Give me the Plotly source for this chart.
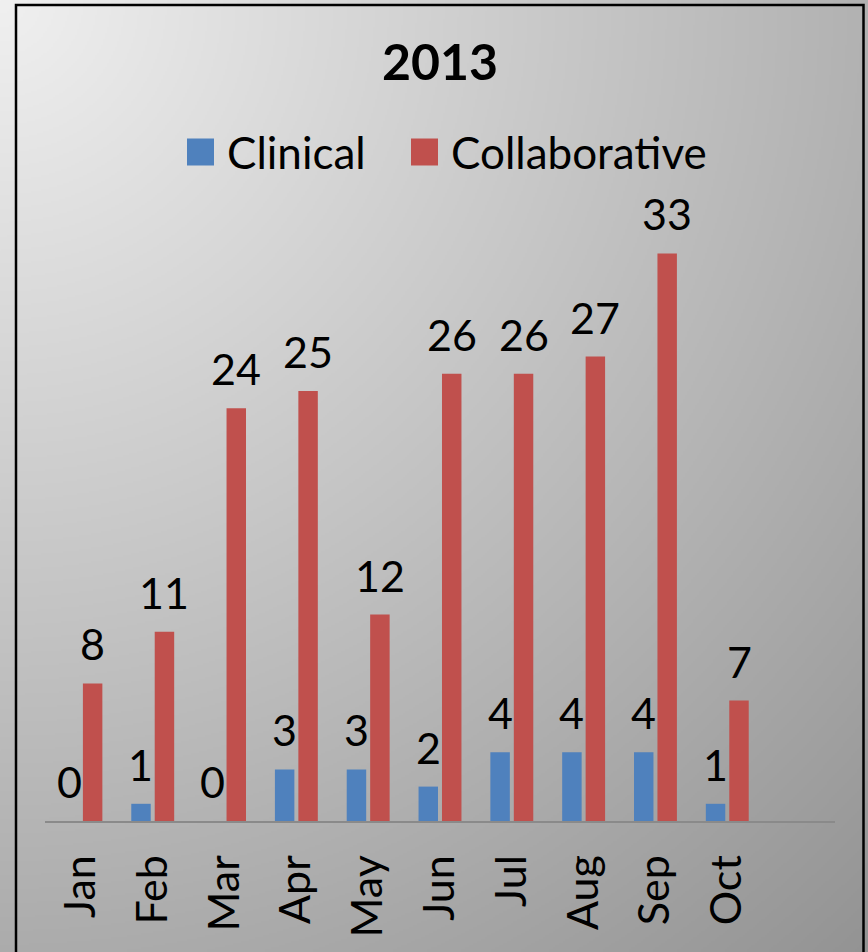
import numpy as np
import zlib
import struct
import base64
import plotly.graph_objects as go

# ---- data ----
months = ["Jan", "Feb", "Mar", "Apr", "May", "Jun", "Jul", "Aug", "Sep", "Oct"]
clinical = [0, 1, 0, 3, 3, 2, 4, 4, 4, 1]
collaborative = [8, 11, 24, 25, 12, 26, 26, 27, 33, 7]
series_names = ["Clinical", "Collaborative"]
series_colors = ["#4f81bd", "#c0504d"]
title_text = "2013"

# ---- layout geometry ----
W, H = 868, 952
ML, MR, MT, MB = 45, 33, 219, 131
PW, PH = W - ML - MR, H - MT - MB
FONT = "Lato, 'Open Sans', sans-serif"


def px_x(x):
    return (x - ML) / PW


def px_y(y):
    return (H - MB - y) / PH


def png_uri(arr):
    h, w = arr.shape
    raw = b"".join(b"\x00" + arr[i].tobytes() for i in range(h))

    def chunk(t, d):
        c = struct.pack(">I", len(d)) + t + d
        return c + struct.pack(">I", zlib.crc32(t + d) & 0xFFFFFFFF)

    png = (b"\x89PNG\r\n\x1a\n"
           + chunk(b"IHDR", struct.pack(">IIBBBBB", w, h, 8, 0, 0, 0, 0))
           + chunk(b"IDAT", zlib.compress(raw, 9))
           + chunk(b"IEND", b""))
    return "data:image/png;base64," + base64.b64encode(png).decode()


# radial gray gradient from top-left corner
step = 2
yy, xx = np.mgrid[0:H // step, 0:W // step] * step
dist = np.hypot(xx, yy)
grad = np.clip(240 - 0.072 * dist, 0, 255).astype(np.uint8)
bg_uri = png_uri(grad)

fig = go.Figure()
for name, vals, col in zip(series_names, (clinical, collaborative), series_colors):
    fig.add_trace(go.Bar(x=months, y=vals, name=name,
                         marker=dict(color=col, line=dict(width=0)),
                         showlegend=False))

offset = 11.75
annotations = []
for vals, sh in ((clinical, -offset), (collaborative, offset)):
    for m, v in zip(months, vals):
        annotations.append(dict(x=m, y=v, xref="x", yref="y", text=str(v),
                                showarrow=False, xshift=sh, yshift=12,
                                yanchor="bottom", xanchor="center",
                                font=dict(family=FONT, size=43, color="black")))

# legend drawn as swatches + labels
shapes = []
legend_sw_x = [187, 411]
legend_y = 152
for sx, name, col in zip(legend_sw_x, series_names, series_colors):
    shapes.append(dict(type="rect", xref="paper", yref="paper",
                       x0=px_x(sx), x1=px_x(sx + 27),
                       y0=px_y(legend_y + 13.5), y1=px_y(legend_y - 13.5),
                       line=dict(width=0), fillcolor=col))
    annotations.append(dict(x=px_x(sx + 38), y=px_y(legend_y), xref="paper", yref="paper",
                            text=name, showarrow=False, xanchor="left", yanchor="middle",
                            font=dict(family=FONT, size=44, color="black")))

shapes.append(dict(type="rect", xref="paper", yref="paper",
                   x0=px_x(16), x1=px_x(863.5), y0=px_y(5), y1=px_y(H + 20),
                   line=dict(color="black", width=2.5), fillcolor="rgba(0,0,0,0)",
                   layer="above"))

fig.update_layout(
    width=W, height=H, autosize=False,
    margin=dict(l=ML, r=MR, t=MT, b=MB, pad=0),
    paper_bgcolor="#d0d0d0",
    plot_bgcolor="rgba(0,0,0,0)",
    barmode="group", bargap=0.347, bargroupgap=0.17,
    title=dict(text="<b>" + title_text + "</b>", x=0.5, xref="paper", xanchor="center",
               y=1 - 62 / H, yref="container", yanchor="middle",
               font=dict(family=FONT, size=50, color="black")),
    showlegend=False,
    annotations=annotations,
    xaxis=dict(type="category", categoryorder="array", categoryarray=months,
               range=[-0.5, len(months) + 0.5],
               showline=True, linecolor="#8a8a8a", linewidth=2,
               showgrid=False, zeroline=False,
               ticks="outside", ticklen=15, tickcolor="rgba(0,0,0,0)",
               tickangle=-90,
               tickfont=dict(family=FONT, size=43, color="black")),
    yaxis=dict(range=[0, 35], visible=False, showgrid=False, zeroline=False),
    images=[dict(source=bg_uri, xref="paper", yref="paper",
                 x=px_x(0), y=px_y(0), sizex=W / PW, sizey=H / PH,
                 xanchor="left", yanchor="top", sizing="stretch", layer="below")],
    shapes=shapes,
)

fig.write_html("out.html", config={"displayModeBar": False},
               post_script="document.body.style.margin='0';document.body.style.padding='0';")
